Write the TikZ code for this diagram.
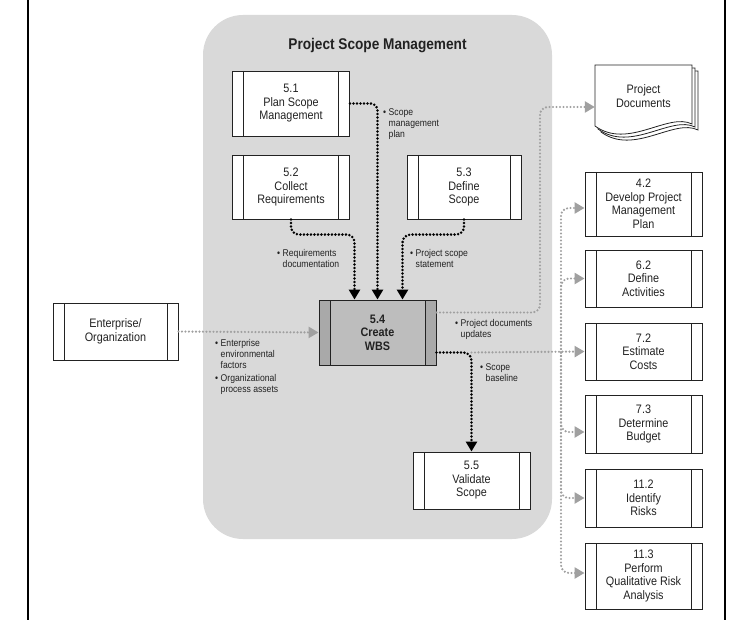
\documentclass[tikz,border=0pt]{standalone}
\usepackage{fontspec}
\setmainfont{Liberation Sans}[FakeStretch=0.88]
\usetikzlibrary{arrows.meta}
\definecolor{bggray}{HTML}{D9D9D9}
\definecolor{wbsfill}{HTML}{BDBDBD}
\definecolor{wbsband}{HTML}{A9A9A9}
\definecolor{dotgray}{HTML}{A0A0A0}
\definecolor{ink}{HTML}{222222}
\tikzset{
  procbox/.style={draw=ink, line width=0.9pt, fill=white, minimum width=117pt,
    minimum height=64pt, inner sep=0pt, align=center, text=ink,
    font=\fontsize{12.3}{13.5}\selectfont,
    path picture={\draw[ink, line width=0.9pt]
      ([xshift=11pt]path picture bounding box.north west) -- ([xshift=11pt]path picture bounding box.south west)
      ([xshift=-11pt]path picture bounding box.north east) -- ([xshift=-11pt]path picture bounding box.south east);}},
  wbsbox/.style={procbox, fill=wbsfill, font=\fontsize{12.3}{13.5}\selectfont\bfseries,
    path picture={
      \fill[wbsband] (path picture bounding box.north west) rectangle ([xshift=11pt]path picture bounding box.south west);
      \fill[wbsband] (path picture bounding box.north east) rectangle ([xshift=-11pt]path picture bounding box.south east);
      \draw[ink, line width=0.9pt]
      ([xshift=11pt]path picture bounding box.north west) -- ([xshift=11pt]path picture bounding box.south west)
      ([xshift=-11pt]path picture bounding box.north east) -- ([xshift=-11pt]path picture bounding box.south east);}},
  lab/.style={font=\fontsize{9.8}{11}\selectfont, text=ink, inner sep=0pt, anchor=base west},
  blk/.style={draw=black, line width=2.8pt, dash pattern=on 0pt off 3.5pt, line cap=round,
    -{Triangle[length=10pt,width=11pt]}},
  gry/.style={draw=dotgray, line width=2.4pt, dash pattern=on 0pt off 3.5pt, line cap=round,
    -{Triangle[length=10pt,width=11pt]}},
}
\newcommand{\bl}[1]{\begin{tabular}[t]{@{}l@{\hspace{2.5pt}}l@{}}#1\end{tabular}}
\begin{document}
\begin{tikzpicture}[x=1pt, y=-1pt]
\path[use as bounding box] (0,0) rectangle (746,620);
% background panel and frame
\fill[bggray, rounded corners=40pt] (203,15) rectangle (552,539);
\draw[black, line width=2pt] (28,0) -- (28,620);
\draw[black, line width=2pt] (725,0) -- (725,620);
\node[font=\fontsize{15.5}{17}\selectfont\bfseries, text=ink] (title) at (377.5,46) {Project Scope Management};

% process boxes
\node[procbox, minimum height=65pt] (p51) at (291,103.5) {5.1\\Plan Scope\\Management};
\node[procbox] (p52) at (291,187) {5.2\\Collect\\Requirements};
\node[procbox, minimum width=114pt] (p53) at (464,187) {5.3\\Define\\Scope};
\node[wbsbox, minimum height=65pt] (p54) at (377.5,332.5) {5.4\\Create\\WBS};
\node[procbox, minimum height=57pt] (p55) at (471.5,480.5) {5.5\\Validate\\Scope};
\node[procbox, minimum width=125pt, minimum height=57pt] (ent) at (115.5,331.5) {Enterprise/\\Organization};

\node[procbox] (p42) at (643.5,204) {4.2\\Develop Project\\Management\\Plan};
\node[procbox, minimum height=57pt] (p62) at (643.5,278.5) {6.2\\Define\\Activities};
\node[procbox, minimum height=57pt] (p72) at (643.5,351.5) {7.2\\Estimate\\Costs};
\node[procbox, minimum height=58pt] (p73) at (643.5,424) {7.3\\Determine\\Budget};
\node[procbox, minimum height=58pt] (p112) at (643.5,498) {11.2\\Identify\\Risks};
\node[procbox, minimum height=66pt] (p113) at (643.5,576) {11.3\\Perform\\Qualitative Risk\\Analysis};

% project documents stack
\draw[ink, line width=0.8pt, fill=white] (601,71) -- (698,71) -- (698,130) .. controls (674,118) and (634,156) .. (601,132) -- cycle;
\draw[ink, line width=0.8pt, fill=white] (598,68) -- (695,68) -- (695,127) .. controls (671,115) and (631,153) .. (598,129) -- cycle;
\draw[ink, line width=0.8pt, fill=white] (595,65) -- (692,65) -- (692,124) .. controls (668,112) and (628,150) .. (595,126) -- cycle;
\node[text=ink, font=\fontsize{12.3}{13.5}\selectfont, align=center, minimum width=97pt, minimum height=62pt, inner sep=0pt] (docs) at (643.5,96) {Project\\Documents};

% inputs into 5.4
\draw[blk, rounded corners=7pt] (p51.east) -| (p54.north);
\draw[blk, rounded corners=8pt] (p52.south) |- ([xshift=-23pt,yshift=65pt]p54.north) -- ([xshift=-23pt]p54.north);
\draw[blk, rounded corners=8pt] (p53.south) |- ([xshift=25pt,yshift=65pt]p54.north) -- ([xshift=25pt]p54.north);
\draw[gry] (ent.east) -- (p54.west);

% outputs of 5.4
\coordinate (c1) at (540,107);
\draw[gry, rounded corners=8pt] ([yshift=20pt]p54.east) -| (c1) -- ([yshift=-11pt]docs.west);
\coordinate (k) at (471.5,352.5);
\coordinate (j) at (561,352.5);
\draw[gry] (k) -- (p72.west);
\draw[gry, rounded corners=8pt] (j) |- ([yshift=-4pt]p42.west);
\draw[gry, rounded corners=8pt] (j) |- (p62.west);
\draw[gry, rounded corners=8pt] (j) |- ([yshift=-8pt]p73.west);
\draw[gry, rounded corners=8pt] (j) |- (p112.west);
\draw[gry, rounded corners=8pt] (j) |- ([yshift=3pt]p113.west);
\draw[blk, rounded corners=8pt] ([yshift=-20pt]p54.east) -| (p55.north);

% labels
\node[lab] (l1) at (383,116) {\bl{\textbullet & Scope\\ & management\\ & plan}};
\node[lab] (l2) at (277,256) {\bl{\textbullet & Requirements\\ & documentation}};
\node[lab] (l3) at (410,256) {\bl{\textbullet & Project scope\\ & statement}};
\node[lab] (l4) at (215,346) {\bl{\textbullet & Enterprise\\ & environmental\\ & factors\\[2.5pt] \textbullet & Organizational\\ & process assets}};
\node[lab] (l5) at (455,326) {\bl{\textbullet & Project documents\\ & updates}};
\node[lab] (l6) at (480,370) {\bl{\textbullet & Scope\\ & baseline}};
\end{tikzpicture}
\end{document}
